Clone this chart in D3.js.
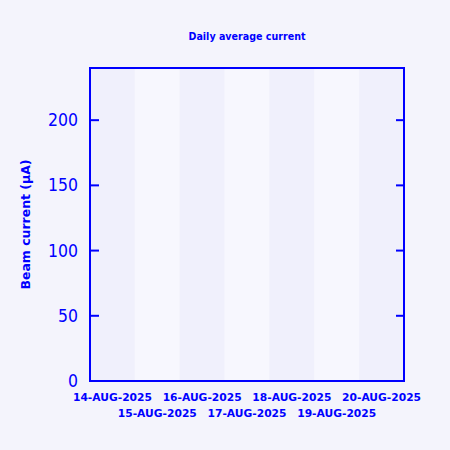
<!DOCTYPE html>
<html>
<head>
<meta charset="utf-8">
<title>Daily average current</title>
<script src="https://d3js.org/d3.v7.min.js"></script>
<style>
  body { margin: 0; background: #f4f4fc; }
  text { font-family: "DejaVu Sans", Arial, sans-serif; fill: #0000ff; }
</style>
</head>
<body>
<svg width="450" height="450"></svg>
<script>
// days shown on the x axis
var days = ["14-AUG-2025", "15-AUG-2025", "16-AUG-2025", "17-AUG-2025",
            "18-AUG-2025", "19-AUG-2025", "20-AUG-2025"];
// daily average beam current (no beam in this period)
var current = [];
var yTicks = [0, 50, 100, 150, 200];
var yMax = 240;

var svg = d3.select("svg"),
    margin = {top: 68, right: 46, bottom: 69, left: 90},
    width = 450 - margin.left - margin.right,
    height = 450 - margin.top - margin.bottom;

svg.append("rect").attr("width", 450).attr("height", 450).attr("fill", "#f4f4fc");

var g = svg.append("g").attr("transform", "translate(" + margin.left + "," + margin.top + ")");

var x = d3.scaleBand().domain(days).range([0, width]).padding(0);
var y = d3.scaleLinear().domain([0, yMax]).range([height, 0]);

// alternating day stripes
g.selectAll("rect.day")
  .data(days)
  .enter().append("rect")
    .attr("class", "day")
    .attr("x", function(d) { return x(d); })
    .attr("y", 0)
    .attr("width", x.bandwidth())
    .attr("height", height)
    .attr("fill", function(d, i) { return i % 2 == 0 ? "#f0f0fc" : "#f7f7fe"; });

// bars (none)
g.selectAll("rect.bar")
  .data(current)
  .enter().append("rect")
    .attr("class", "bar")
    .attr("x", function(d, i) { return x(days[i]); })
    .attr("y", function(d) { return y(d); })
    .attr("width", x.bandwidth())
    .attr("height", function(d) { return height - y(d); })
    .attr("fill", "#0000ff");

// y ticks, left and right, pointing in
g.selectAll("line.tl")
  .data(yTicks.slice(1))
  .enter().append("line")
    .attr("x1", 0).attr("x2", 9)
    .attr("y1", function(d) { return y(d); })
    .attr("y2", function(d) { return y(d); })
    .attr("stroke", "#0000ff").attr("stroke-width", 2);

g.selectAll("line.tr")
  .data(yTicks.slice(1))
  .enter().append("line")
    .attr("x1", width - 8).attr("x2", width)
    .attr("y1", function(d) { return y(d); })
    .attr("y2", function(d) { return y(d); })
    .attr("stroke", "#0000ff").attr("stroke-width", 2);

g.selectAll("text.yl")
  .data(yTicks)
  .enter().append("text")
    .attr("x", -12)
    .attr("y", function(d) { return y(d); })
    .attr("dy", "0.36em")
    .attr("text-anchor", "end")
    .attr("font-size", 17)
    .attr("textLength", function(d) { return String(d).length * 10; })
    .attr("lengthAdjust", "spacingAndGlyphs")
    .text(function(d) { return d; });

// staggered date labels
g.selectAll("text.xl")
  .data(days)
  .enter().append("text")
    .attr("x", function(d) { return x(d) + x.bandwidth() / 2; })
    .attr("y", function(d, i) { return height + (i % 2 == 0 ? 20 : 36); })
    .attr("text-anchor", "middle")
    .attr("font-size", 11)
    .attr("font-weight", "bold")
    .attr("textLength", 79)
    .attr("lengthAdjust", "spacingAndGlyphs")
    .text(function(d) { return d; });

// frame
g.append("rect")
  .attr("width", width).attr("height", height)
  .attr("fill", "none")
  .attr("stroke", "#0000ff").attr("stroke-width", 2);

svg.append("text")
  .attr("x", margin.left + width / 2)
  .attr("y", 40)
  .attr("text-anchor", "middle")
  .attr("font-size", 10)
  .attr("font-weight", "bold")
  .attr("textLength", 117)
  .attr("lengthAdjust", "spacingAndGlyphs")
  .text("Daily average current");

svg.append("text")
  .attr("transform", "translate(30," + (margin.top + height / 2) + ") rotate(-90)")
  .attr("text-anchor", "middle")
  .attr("font-size", 13)
  .attr("font-weight", "bold")
  .attr("textLength", 130)
  .attr("lengthAdjust", "spacingAndGlyphs")
  .text("Beam current  (\u03bcA)");
</script>
</body>
</html>
